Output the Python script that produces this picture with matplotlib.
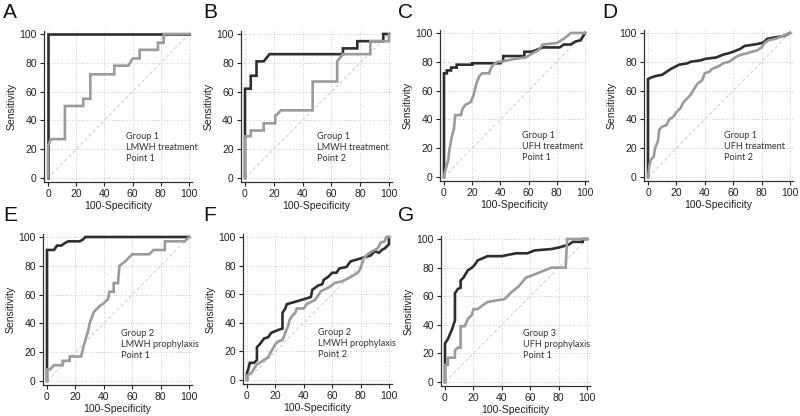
import matplotlib
matplotlib.use("Agg")
import matplotlib.pyplot as plt

plt.rcParams['font.family'] = ['Liberation Sans', 'DejaVu Sans']

# ---------------- data ----------------
panel_letters = ["A", "B", "C", "D", "E", "F", "G"]
panel_notes = [
    ["Group 1", "LMWH treatment", "Point 1"],
    ["Group 1", "LMWH treatment", "Point 2"],
    ["Group 1", "UFH treatment", "Point 1"],
    ["Group 1", "UFH treatment", "Point 2"],
    ["Group 2", "LMWH prophylaxis", "Point 1"],
    ["Group 2", "LMWH prophylaxis", "Point 2"],
    ["Group 3", "UFH prophylaxis", "Point 1"],
]
ticks = [0, 20, 40, 60, 80, 100]
x_label = "100-Specificity"
y_label = "Sensitivity"

a_dark_x = [0, 0, 82, 100]
a_dark_y = [0, 100, 100, 100]
a_gray_x = [0, 0, 2, 12, 12, 25, 25, 30, 30, 47, 47, 57, 60, 65, 65, 78, 78, 82, 82, 100]
a_gray_y = [0, 22, 27, 27, 50, 50, 55, 55, 72, 72, 78, 78, 83, 83, 89, 89, 94, 94, 100, 100]

b_dark_x = [0, 0, 4, 4, 8, 8, 13, 17, 68, 68, 78, 78, 96, 96, 100]
b_dark_y = [0, 62, 62, 71, 71, 81, 81, 86, 86, 90, 90, 95, 95, 100, 100]
b_gray_x = [0, 0, 4, 4, 13, 13, 21, 21, 25, 47, 47, 64, 64, 68, 87, 87, 100, 100]
b_gray_y = [0, 29, 29, 33, 33, 38, 38, 43, 47, 47, 67, 67, 81, 86, 86, 95, 95, 100]

c_dark_x = [0, 0, 2, 2, 5, 5, 9, 9, 20, 20, 40, 42, 42, 57, 57, 62, 65, 70, 82, 85, 90, 93, 97, 100]
c_dark_y = [0, 72, 72, 74, 74, 76, 76, 78, 78, 79, 79, 81, 84, 84, 87, 87, 88, 90, 90, 92, 92, 94, 95, 100]
c_gray_x = [0, 1, 2, 3, 4, 5, 6, 7, 8, 12, 13, 15, 19, 21, 23, 25, 27, 32, 33, 35, 38, 40, 50, 58, 63, 67, 70, 80, 85, 90, 100]
c_gray_y = [0, 5, 8, 12, 20, 25, 30, 33, 43, 43, 47, 50, 52, 57, 65, 70, 72, 72, 75, 78, 80, 80, 82, 83, 86, 88, 92, 93, 96, 100, 100]

d_dark_x = [0, 0, 2, 5, 10, 13, 16, 20, 22, 28, 30, 37, 40, 48, 53, 57, 60, 65, 68, 75, 80, 82, 84, 90, 96, 100]
d_dark_y = [0, 68, 69, 70, 71, 73, 75, 77, 78, 79, 80, 81, 82, 83, 85, 86, 87, 89, 91, 92, 93, 94, 96, 97, 98, 100]
d_gray_x = [0, 1, 2, 4, 5, 7, 8, 10, 13, 15, 18, 20, 23, 25, 28, 30, 33, 35, 38, 40, 43, 45, 50, 53, 57, 60, 63, 66, 70, 73, 77, 80, 82, 85, 90, 95, 100]
d_gray_y = [0, 8, 12, 14, 20, 25, 33, 35, 36, 40, 42, 45, 48, 52, 55, 57, 62, 65, 67, 72, 73, 75, 77, 79, 80, 82, 84, 85, 86, 87, 88, 90, 93, 95, 96, 98, 100]

e_dark_x = [0, 0, 5, 7, 10, 13, 15, 23, 25, 27, 100]
e_dark_y = [0, 91, 91, 94, 94, 96, 97, 97, 98, 100, 100]
e_gray_x = [0, 0, 2, 5, 11, 11, 16, 16, 24, 26, 29, 30, 33, 37, 40, 43, 44, 47, 47, 50, 51, 55, 57, 60, 72, 75, 83, 83, 97, 100]
e_gray_y = [0, 8, 8, 11, 11, 14, 14, 17, 17, 25, 35, 40, 48, 52, 54, 57, 62, 62, 68, 68, 80, 83, 85, 88, 88, 91, 91, 97, 97, 100]

f_dark_x = [0, 0, 1, 2, 5, 7, 7, 9, 12, 15, 17, 22, 25, 25, 27, 28, 35, 45, 46, 50, 53, 54, 57, 60, 63, 65, 70, 73, 80, 83, 87, 90, 93, 95, 97, 100, 100]
f_dark_y = [0, 5, 8, 12, 12, 14, 23, 25, 29, 30, 33, 35, 36, 47, 50, 53, 55, 58, 63, 66, 67, 70, 72, 75, 75, 78, 79, 83, 85, 86, 87, 90, 89, 91, 92, 95, 100]
f_gray_x = [0, 0, 3, 5, 7, 9, 12, 15, 17, 20, 22, 25, 27, 29, 30, 32, 34, 35, 40, 42, 48, 52, 58, 62, 67, 73, 78, 80, 82, 85, 88, 92, 94, 97, 98, 100]
f_gray_y = [0, 3, 5, 8, 11, 12, 14, 16, 20, 25, 27, 28, 33, 38, 42, 45, 47, 50, 50, 53, 56, 62, 65, 68, 69, 72, 75, 78, 85, 88, 90, 92, 96, 97, 100, 100]

g_dark_x = [0, 0, 2, 5, 7, 7, 9, 11, 11, 13, 16, 19, 21, 23, 30, 40, 50, 58, 63, 75, 80, 87, 90, 97, 97, 100]
g_dark_y = [0, 27, 30, 37, 43, 62, 65, 66, 71, 73, 78, 80, 82, 85, 88, 88, 90, 90, 92, 93, 94, 96, 98, 98, 100, 100]
g_gray_x = [0, 0, 2, 2, 7, 7, 9, 11, 11, 14, 16, 19, 20, 23, 27, 30, 42, 47, 52, 57, 60, 65, 70, 75, 85, 86, 100]
g_gray_y = [0, 12, 12, 17, 17, 22, 24, 24, 39, 39, 44, 47, 51, 51, 54, 56, 58, 63, 67, 73, 74, 76, 78, 80, 80, 100, 100]

dark_series = [(a_dark_x, a_dark_y), (b_dark_x, b_dark_y), (c_dark_x, c_dark_y), (d_dark_x, d_dark_y),
               (e_dark_x, e_dark_y), (f_dark_x, f_dark_y), (g_dark_x, g_dark_y)]
gray_series = [(a_gray_x, a_gray_y), (b_gray_x, b_gray_y), (c_gray_x, c_gray_y), (d_gray_x, d_gray_y),
               (e_gray_x, e_gray_y), (f_gray_x, f_gray_y), (g_gray_x, g_gray_y)]

# ---------------- layout (pixel anchors of data 0 and 100) ----------------
W, H = 800, 416
anchors = [
    (48, 189, 178, 34),
    (245, 389, 178, 34),
    (444, 585, 177, 33),
    (648, 790, 177, 33),
    (47, 189, 381, 237),
    (247, 389, 380, 237),
    (445, 587, 382, 239),
]
letter_pos = [(3, 3), (203, 3), (398, 3), (602, 3), (3, 206), (203, 206), (398, 206)]
note_pos = [(55, 29), (50, 29), (55, 28.5), (53.5, 28.5), (52, 33), (50, 33), (55, 34)]

DARK = "#2e2e2e"
GRAY = "#9b9b9b"

fig = plt.figure(figsize=(W / 100, H / 100), dpi=100)

for i in range(7):
    x0, x100, y0, y100 = anchors[i]
    sx = (x100 - x0) / 100.0
    sy = (y0 - y100) / 100.0
    left = x0 - 3 * sx
    right = x100 + 2 * sx
    bottom = y0 + 3 * sy
    top = y100 - 2 * sy
    ax = fig.add_axes([left / W, 1 - bottom / H, (right - left) / W, (bottom - top) / H])
    ax.set_xlim(-3, 102)
    ax.set_ylim(-3, 102)
    for s in ["top", "right"]:
        ax.spines[s].set_visible(False)
    for s in ["left", "bottom"]:
        ax.spines[s].set_color("#333333")
        ax.spines[s].set_linewidth(0.9)
    ax.set_xticks(ticks)
    ax.set_yticks(ticks)
    ax.tick_params(direction="out", length=3, width=0.8, labelsize=7.5, pad=2, colors="#222222")
    ax.grid(True, linestyle=(0, (1, 2)), color="#bdbdbd", linewidth=0.6)
    ax.set_axisbelow(True)
    ax.plot([0, 100], [0, 100], linestyle=(0, (4, 3)), color="#c4c4c4", linewidth=0.6, zorder=1)
    dx, dy = dark_series[i]
    gx, gy = gray_series[i]
    ax.plot(dx, dy, color=DARK, linewidth=1.9, solid_joinstyle="miter", zorder=3)
    ax.plot(gx, gy, color=GRAY, linewidth=1.9, solid_joinstyle="miter", zorder=4)
    ax.set_xlabel(x_label, fontsize=7.5, labelpad=1.5, color="#222222")
    ax.set_ylabel(y_label, fontsize=7.5, labelpad=2, color="#222222")
    nx, ny = note_pos[i]
    for k, line in enumerate(panel_notes[i]):
        ax.text(nx, ny - k * 7.6, line, fontsize=6.6, family=["Lato", "DejaVu Sans"],
                va="center", ha="left", color="#333333", zorder=5)
    lx, ly = letter_pos[i]
    fig.text(lx / W, 1 - ly / H, panel_letters[i], fontsize=15, va="top", ha="left", color="#111111")

fig.savefig("out.png", dpi=100)
